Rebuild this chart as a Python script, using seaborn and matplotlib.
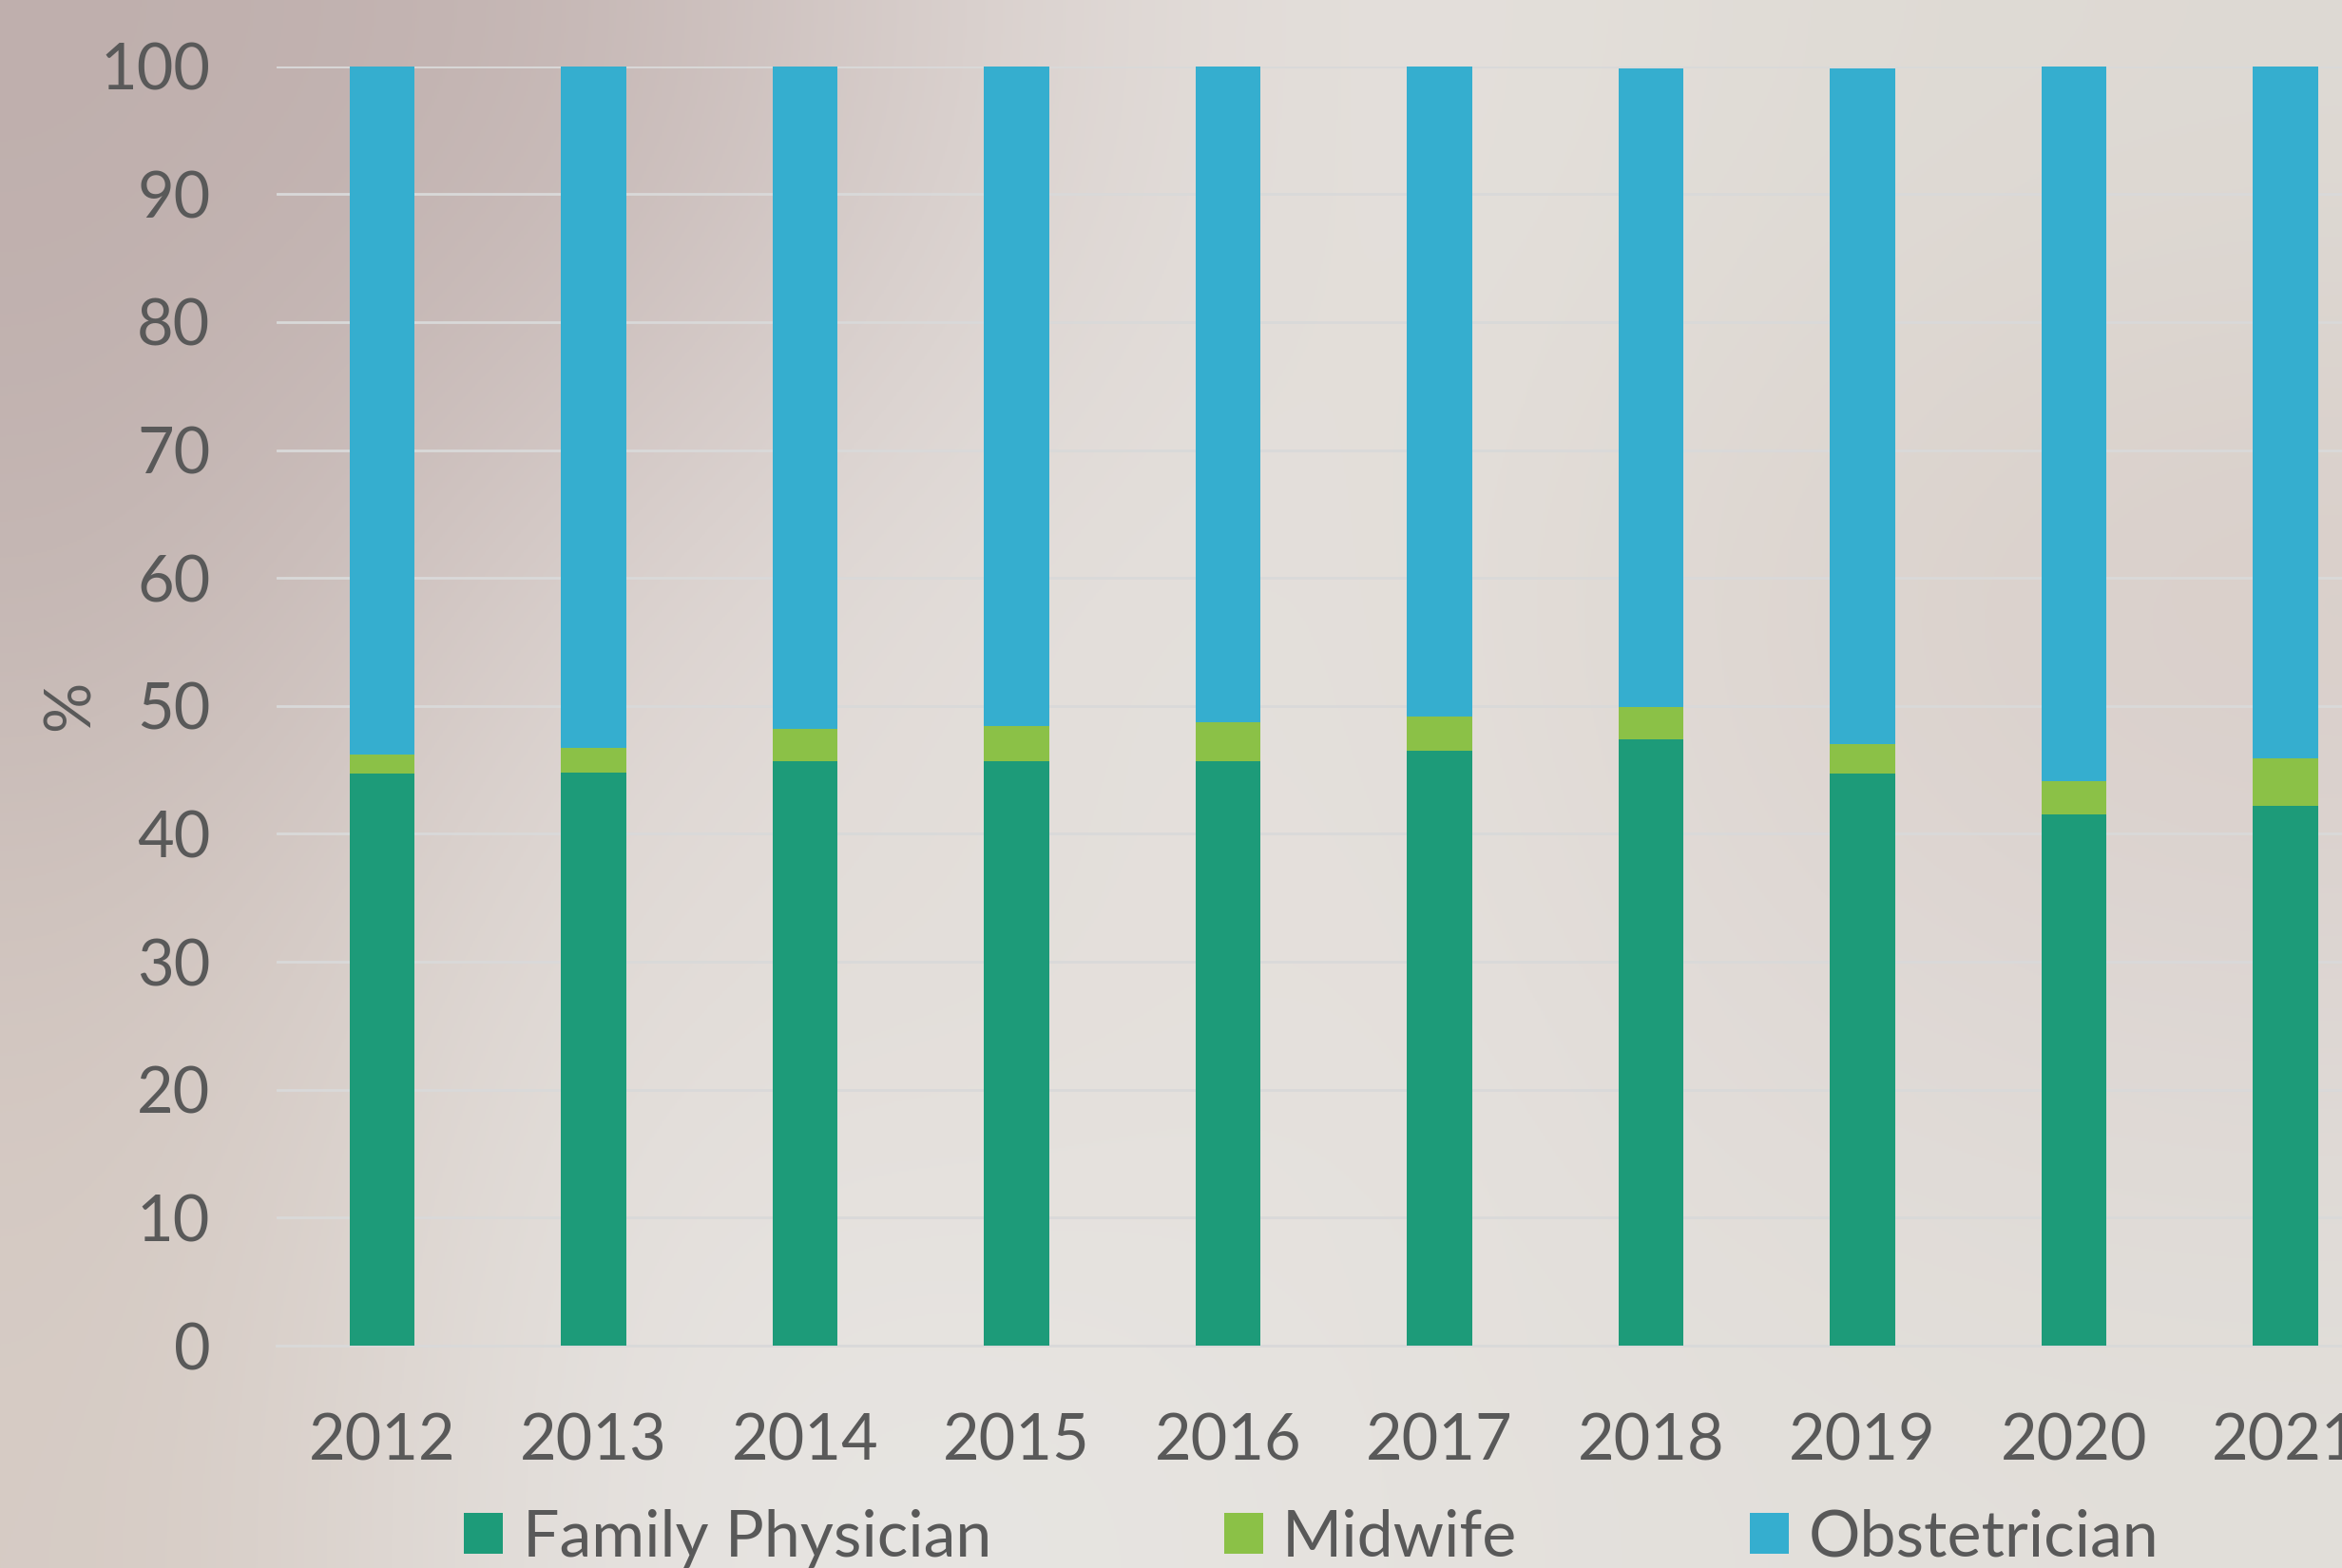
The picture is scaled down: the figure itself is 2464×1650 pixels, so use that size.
import numpy as np
import pandas as pd
import matplotlib
matplotlib.use("Agg")
import matplotlib.pyplot as plt
import seaborn as sns
from matplotlib.colors import to_rgb
from matplotlib.patches import Patch

# ---- data ----
years = ["2012", "2013", "2014", "2015", "2016", "2017", "2018", "2019", "2020", "2021"]
family_physician = [44.7, 44.8, 45.7, 45.7, 45.7, 46.5, 47.4, 44.7, 41.5, 42.2]
midwife = [1.5, 1.9, 2.5, 2.7, 3.0, 2.7, 2.5, 2.3, 2.6, 3.7]
obstetrician = [53.8, 53.3, 51.8, 51.6, 51.3, 50.8, 49.9, 52.8, 55.9, 54.1]
series_names = ["Family Physician", "Midwife", "Obstetrician"]
y_ticks = [0, 10, 20, 30, 40, 50, 60, 70, 80, 90, 100]

colors = {"Family Physician": "#1d9b79", "Midwife": "#8bc147", "Obstetrician": "#35aecf"}
text_color = "#595959"

df = pd.DataFrame({"year": years, "fp": family_physician, "mw": midwife, "ob": obstetrician})
df["fp_top"] = df["fp"]
df["mw_top"] = df["fp"] + df["mw"]
df["ob_top"] = df["fp"] + df["mw"] + df["ob"]

sns.set_theme(style="white")
plt.rcParams["font.family"] = ["Lato", "DejaVu Sans"]

fig = plt.figure(figsize=(24.64, 16.5), dpi=100)

# soft blurred-photo-like background
bg_hex = [
    ["#bfafad", "#c4b5b3", "#dbd2cf", "#e6e2de", "#e0dcd6", "#dedad4"],
    ["#c3b5b2", "#dcd2cf", "#e5e1de", "#e4e0db", "#ddd5cf", "#d8ccc7"],
    ["#d2c6c0", "#e4dfdb", "#e2dcd7", "#e6e2de", "#e0d9d6", "#ddd6d3"],
    ["#d6cbc4", "#e6e3e0", "#e8e6e3", "#e5e2de", "#e3e0db", "#e2dfda"],
]
bg = np.array([[to_rgb(c) for c in row] for row in bg_hex])
bgax = fig.add_axes([0, 0, 1, 1], zorder=-10)
bgax.imshow(bg, aspect="auto", interpolation="bicubic", extent=[0, 1, 0, 1])
bgax.set_axis_off()

ax = fig.add_axes([0.118, 0.1418, 0.903, 0.816])
ax.patch.set_alpha(0)

for col, name in [("ob_top", "Obstetrician"), ("mw_top", "Midwife"), ("fp_top", "Family Physician")]:
    sns.barplot(data=df, x="year", y=col, color=colors[name], saturation=1,
                width=0.31, ax=ax, errorbar=None, linewidth=0, zorder=3)

ax.set_xlim(-0.5, 9.5)
ax.set_ylim(0, 100)
ax.set_yticks(y_ticks)
ax.grid(axis="y", color="#d9d9d9", linewidth=2, zorder=0)
ax.grid(axis="x", visible=False)
for s in ["top", "right", "left"]:
    ax.spines[s].set_visible(False)
ax.spines["bottom"].set_color("#d9d9d9")
ax.spines["bottom"].set_linewidth(2)
ax.spines["bottom"].set_zorder(0)

ax.tick_params(axis="y", length=0, pad=50, labelsize=48, labelcolor=text_color)
ax.tick_params(axis="x", length=0, pad=51, labelsize=48, labelcolor=text_color)
ax.set_xlabel("")
ax.set_ylabel("%", fontsize=48, color=text_color)
ax.yaxis.set_label_coords(-0.097, 0.5)
ax.yaxis.label.set_verticalalignment("center")

handles = [Patch(facecolor=colors[n], edgecolor="none", label=n) for n in series_names]
fig.legend(handles=handles, loc="center", bbox_to_anchor=(0.56, 0.019), ncol=3,
           frameon=False, fontsize=49, labelcolor=text_color,
           handlelength=0.6, handleheight=0.6, handletextpad=0.3, columnspacing=3.6)

fig.savefig("out.png", dpi=100)
